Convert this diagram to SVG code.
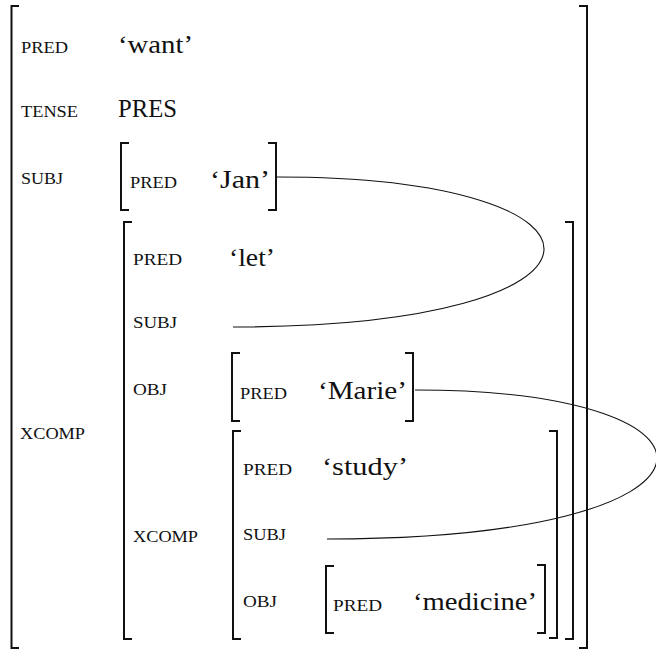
<svg xmlns="http://www.w3.org/2000/svg" width="656" height="650" viewBox="0 0 656 650">
<style>
.br{fill:none;stroke:#111;stroke-width:2}
.cn{fill:none;stroke:#111;stroke-width:1.1}
.sc{font-family:"Liberation Serif",serif;font-size:16px;fill:#111}
.v{font-family:"Liberation Serif",serif;font-size:25px;fill:#111}
</style>
<rect width="656" height="650" fill="#fff"/>
<g id="f-outer">
<path class="br" d="M19,6 H11.5 V648 H19"/>
<path class="br" d="M579,6 H587 V648 H579"/>
<text class="sc" x="21" y="53" textLength="47" lengthAdjust="spacingAndGlyphs">PRED</text>
<text class="v" x="118" y="53" textLength="75" lengthAdjust="spacingAndGlyphs">‘want’</text>
<text class="sc" x="21" y="117" textLength="57" lengthAdjust="spacingAndGlyphs">TENSE</text>
<text class="v" x="118" y="117" textLength="59" lengthAdjust="spacingAndGlyphs">PRES</text>
<text class="sc" x="21" y="184" textLength="42" lengthAdjust="spacingAndGlyphs">SUBJ</text>
<text class="sc" x="20" y="439" textLength="65" lengthAdjust="spacingAndGlyphs">XCOMP</text>
</g>
<g id="f-jan">
<path class="br" d="M129,143 H121 V210 H129"/>
<path class="br" d="M268,143 H276 V210 H268"/>
<text class="sc" x="130" y="188" textLength="47" lengthAdjust="spacingAndGlyphs">PRED</text>
<text class="v" x="210" y="188" textLength="60" lengthAdjust="spacingAndGlyphs">‘Jan’</text>
</g>
<g id="f-let">
<path class="br" d="M132,222 H124 V639 H132"/>
<path class="br" d="M565,222 H573 V639 H565"/>
<text class="sc" x="133" y="265" textLength="49" lengthAdjust="spacingAndGlyphs">PRED</text>
<text class="v" x="229" y="266" textLength="46" lengthAdjust="spacingAndGlyphs">‘let’</text>
<text class="sc" x="133" y="328" textLength="44" lengthAdjust="spacingAndGlyphs">SUBJ</text>
<text class="sc" x="133" y="395" textLength="34" lengthAdjust="spacingAndGlyphs">OBJ</text>
<text class="sc" x="133" y="542" textLength="65" lengthAdjust="spacingAndGlyphs">XCOMP</text>
</g>
<g id="f-marie">
<path class="br" d="M240,353 H232 V421 H240"/>
<path class="br" d="M405,353 H413 V421 H405"/>
<text class="sc" x="240" y="399" textLength="47" lengthAdjust="spacingAndGlyphs">PRED</text>
<text class="v" x="318" y="399" textLength="89" lengthAdjust="spacingAndGlyphs">‘Marie’</text>
</g>
<g id="f-study">
<path class="br" d="M241,431 H233 V639 H241"/>
<path class="br" d="M549,431 H557 V638 H549"/>
<text class="sc" x="243" y="475" textLength="49" lengthAdjust="spacingAndGlyphs">PRED</text>
<text class="v" x="322" y="475" textLength="86" lengthAdjust="spacingAndGlyphs">‘study’</text>
<text class="sc" x="243" y="540" textLength="43" lengthAdjust="spacingAndGlyphs">SUBJ</text>
<text class="sc" x="243" y="607" textLength="34" lengthAdjust="spacingAndGlyphs">OBJ</text>
</g>
<g id="f-medicine">
<path class="br" d="M334,566 H326 V633 H334"/>
<path class="br" d="M537,565 H545 V633 H537"/>
<text class="sc" x="333" y="611" textLength="49" lengthAdjust="spacingAndGlyphs">PRED</text>
<text class="v" x="413" y="610" textLength="124" lengthAdjust="spacingAndGlyphs">‘medicine’</text>
</g>
<g id="connectors">
<path class="cn" d="M277,177 C640,177 640,327 233,327"/>
<path class="cn" d="M415,390 C751,390 751,539 327,539"/>
</g>
</svg>
